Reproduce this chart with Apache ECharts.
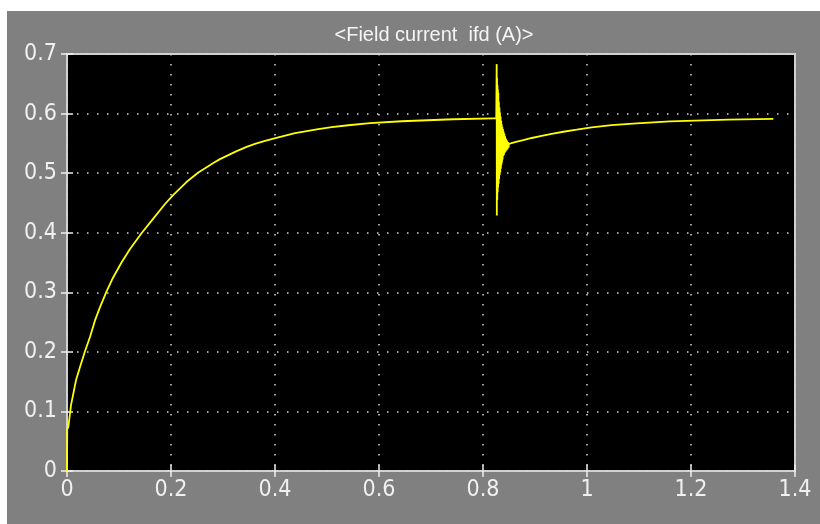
<!DOCTYPE html>
<html>
<head>
<meta charset="utf-8">
<title>Field current ifd (A)</title>
<script src="https://cdn.jsdelivr.net/npm/echarts@6/dist/echarts.min.js"></script>
<style>
  html, body { margin: 0; padding: 0; background: #ffffff; }
  #chart { width: 820px; height: 524px; }
</style>
</head>
<body>
<div id="chart"></div>
<script>
// Field current ifd (A) versus time (s), scope trace.
const titleText = '<Field current  ifd (A)>';

// Build-up of the field current towards steady state
const riseTime  = [0, 0.0004, 0.0026, 0.0077, 0.0122, 0.0173, 0.025, 0.0346, 0.0442, 0.0538, 0.0635, 0.0763, 0.089, 0.1051, 0.1212, 0.1436, 0.1628, 0.1885, 0.2045,
  0.2302, 0.2525, 0.2686, 0.2814, 0.2942, 0.3102, 0.3263, 0.3455, 0.3615, 0.3808, 0.4064, 0.4385, 0.4833, 0.509, 0.541, 0.5827, 0.6436, 0.7429, 0.8198, 0.8255];
const riseValue = [0, 0.070, 0.074, 0.1105, 0.130, 0.1524, 0.1746, 0.2009, 0.2249, 0.2528, 0.2751, 0.3019, 0.3253, 0.3504, 0.3728, 0.3996, 0.4202, 0.4482, 0.4635,
  0.4855, 0.5011, 0.5100, 0.5170, 0.5235, 0.5302, 0.5370, 0.5441, 0.5490, 0.5540, 0.5600, 0.5670, 0.5740, 0.5771, 0.5804, 0.5838, 0.5871, 0.5905, 0.5918, 0.5918];

// Disturbance near t = 0.826 s: decaying oscillation
const spikeTime  = [0.8263, 0.8266, 0.8270, 0.8274, 0.8278, 0.8282, 0.8286, 0.8290, 0.8295, 0.8300, 0.8305, 0.8310, 0.8316, 0.8322, 0.8327, 0.8332, 0.8338, 0.8344, 0.8350, 0.8355, 0.8360, 0.8365, 0.8371, 0.8377, 0.8384, 0.8390, 0.8397, 0.8404, 0.8411, 0.8418, 0.8425, 0.8433, 0.8442, 0.8451, 0.8460, 0.8470, 0.8480, 0.8490, 0.8500, 0.8520];
const spikeValue = [0.683, 0.429, 0.660, 0.455, 0.648, 0.468, 0.641, 0.476, 0.635, 0.482, 0.620, 0.490, 0.610, 0.497, 0.602, 0.501, 0.595, 0.508, 0.588, 0.514, 0.582, 0.518, 0.578, 0.523, 0.574, 0.529, 0.570, 0.531, 0.566, 0.534, 0.562, 0.536, 0.558, 0.538, 0.555, 0.540, 0.552, 0.543, 0.549, 0.5486];

// Recovery back to steady state
const recoveryTime  = [0.8615, 0.8775, 0.8936, 0.9128, 0.9321, 0.9545, 0.9801, 1.009, 1.0474, 1.0955, 1.1596, 1.2717, 1.3583];
const recoveryValue = [0.5520, 0.5555, 0.5590, 0.5625, 0.5660, 0.5695, 0.5730, 0.5770, 0.5805, 0.5835, 0.5868, 0.5900, 0.5910];

const xMin = 0, xMax = 1.4, xStep = 0.2;
const yMin = 0, yMax = 0.7, yStep = 0.1;

const pairs = (xs, ys) => xs.map((x, i) => [x, ys[i]]);
const trace = [].concat(pairs(riseTime, riseValue), pairs(spikeTime, spikeValue), pairs(recoveryTime, recoveryValue));

const labelFont = '"Liberation Sans Narrow", "Arial Narrow", "DejaVu Sans Condensed", sans-serif';
const gridDots = { color: '#d8d8d8', width: 1.5, type: [1.5, 8.5] };
const innerTick = { show: true, inside: true, length: 6, lineStyle: { color: '#eeeeee', width: 1.5 } };

const chart = echarts.init(document.getElementById('chart'), null, { renderer: 'canvas' });

chart.setOption({
  backgroundColor: '#ffffff',
  animation: false,
  graphic: [{
    type: 'rect',
    z: -100,
    shape: { x: 7, y: 11, width: 813, height: 513 },
    style: { fill: '#808080' },
    silent: true
  }],
  title: {
    text: titleText,
    left: 429,
    top: 20,
    textAlign: 'center',
    textStyle: { color: '#f4f4f4', fontSize: 20, fontWeight: 'normal', fontFamily: '"Liberation Sans", Arial, sans-serif' }
  },
  grid: {
    left: 67, right: 25, top: 54, bottom: 53,
    show: true,
    backgroundColor: '#000000',
    borderColor: '#d0d0d0',
    borderWidth: 2
  },
  xAxis: [{
    type: 'value', min: xMin, max: xMax, interval: xStep,
    axisLine: { show: false },
    axisTick: innerTick,
    axisLabel: { color: '#f0f0f0', fontSize: 23, fontFamily: labelFont, margin: 8 },
    splitLine: { show: true, lineStyle: gridDots }
  }, {
    type: 'value', position: 'top', min: xMin, max: xMax, interval: xStep,
    axisLine: { show: false },
    axisTick: innerTick,
    axisLabel: { show: false },
    splitLine: { show: false }
  }],
  yAxis: [{
    type: 'value', min: yMin, max: yMax, interval: yStep,
    axisLine: { show: false },
    axisTick: innerTick,
    axisLabel: { color: '#f0f0f0', fontSize: 23, fontFamily: labelFont, margin: 10 },
    splitLine: { show: true, lineStyle: gridDots }
  }, {
    type: 'value', position: 'right', min: yMin, max: yMax, interval: yStep,
    axisLine: { show: false },
    axisTick: innerTick,
    axisLabel: { show: false },
    splitLine: { show: false }
  }],
  series: [{
    name: 'ifd',
    type: 'line',
    xAxisIndex: 0, yAxisIndex: 0,
    data: trace,
    showSymbol: false,
    lineStyle: { color: '#ffff00', width: 1.8 },
    z: 5
  }]
});
</script>
</body>
</html>
